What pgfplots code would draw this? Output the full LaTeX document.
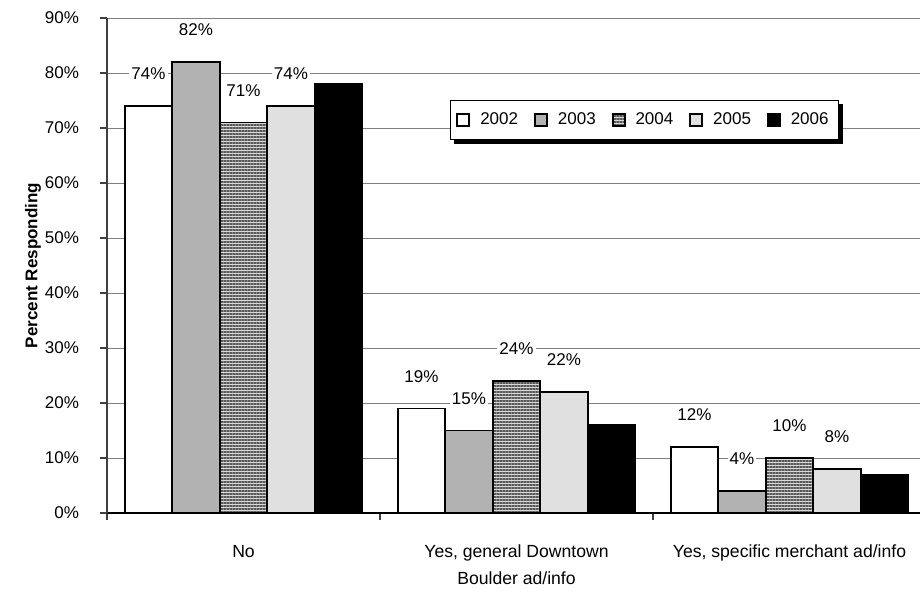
\documentclass[border=0pt]{standalone}
\usepackage{pgfplots}
\pgfplotsset{compat=1.18}
\usepackage{fontspec}
\setmainfont{Liberation Sans}
\usetikzlibrary{patterns.meta}

\newcommand{\lbl}{\fontsize{8.5}{10}\selectfont}
\newcommand{\xlbl}{\fontsize{8.8}{13.5}\selectfont}

\pgfplotsset{
  sq/.style={legend image code/.code={\draw[##1, line width=0.9pt] (0pt,-3pt) rectangle (6pt,3pt);}},
  lab/.style={nodes near coords={\pgfmathprintnumber{\pgfplotspointmeta}\%}},
}

\begin{document}
\begin{tikzpicture}
\useasboundingbox (0,0) rectangle (460pt,299.5pt);
\begin{axis}[
  at={(53.5pt,43pt)}, anchor=south west,
  scale only axis, width=409.5pt, height=247.5pt,
  xmin=-0.5, xmax=2.5, ymin=0, ymax=90,
  axis lines*=left,
  x axis line style={black, line width=0.6pt},
  y axis line style={black!75, line width=0.6pt},
  ytick={0,10,...,90},
  yticklabel={\pgfmathprintnumber{\tick}\%},
  /pgf/number format/assume math mode=true,
  ymajorgrids, grid style={gray, line width=0.5pt},
  xtick={-0.5,0.5,1.5,2.5},
  x tick label as interval,
  xticklabels={No, {Yes, general Downtown\\Boulder ad/info}, {Yes, specific merchant ad/info}},
  xticklabel style={align=center, font=\xlbl, yshift=-9pt},
  yticklabel style={font=\lbl, xshift=-7pt},
  tick align=outside, major tick length=3.5pt,
  tick style={black!75, line width=0.6pt},
  ylabel={\bfseries Percent Responding},
  ylabel style={font=\lbl, at={(axis description cs:-0.0904,0.5)}, anchor=center},
  ybar=0pt, bar width=23.75pt,
  every node near coord/.append style={font=\lbl, fill=white, inner sep=1pt, anchor=center, yshift=16pt, text=black},
  legend style={name=leg, at={(axis description cs:0.4188,0.834)}, anchor=north west,
    draw=black, line width=0.5pt, fill=white,
    font=\lbl, inner xsep=3pt, inner ysep=4pt,
    /tikz/every odd column/.append style={column sep=3pt},
    /tikz/every even column/.append style={column sep=6pt}},
  legend columns=5,
]
\addplot[sq, lab, draw=black, line width=0.9pt, fill=white]
  coordinates {(0,74) (1,19) (2,12)};
\addplot[sq, lab, draw=black, line width=0.9pt, fill=black!30]
  coordinates {(0,82) (1,15) (2,4)};
\addplot[sq, lab, draw=black, line width=0.9pt, fill=black!15,
  postaction={pattern={Lines[angle=0,distance=1.5pt,line width=0.6pt]}, pattern color=black!65}]
  coordinates {(0,71) (1,24) (2,10)};
\addplot[sq, lab, draw=black, line width=0.9pt, fill=black!12]
  coordinates {(0,74) (1,22) (2,8)};
\addplot[sq, draw=black, line width=0.9pt, fill=black]
  coordinates {(0,78) (1,16) (2,7)};
\legend{2002,2003,2004,2005,2006}
\end{axis}
% drop shadow of the legend box, along its right and bottom edges
\fill[black] ([yshift=-2pt]leg.north east) rectangle ([xshift=2pt,yshift=-2pt]leg.south east);
\fill[black] ([xshift=2pt]leg.south west) rectangle ([xshift=2pt,yshift=-2pt]leg.south east);
\end{tikzpicture}
\end{document}
